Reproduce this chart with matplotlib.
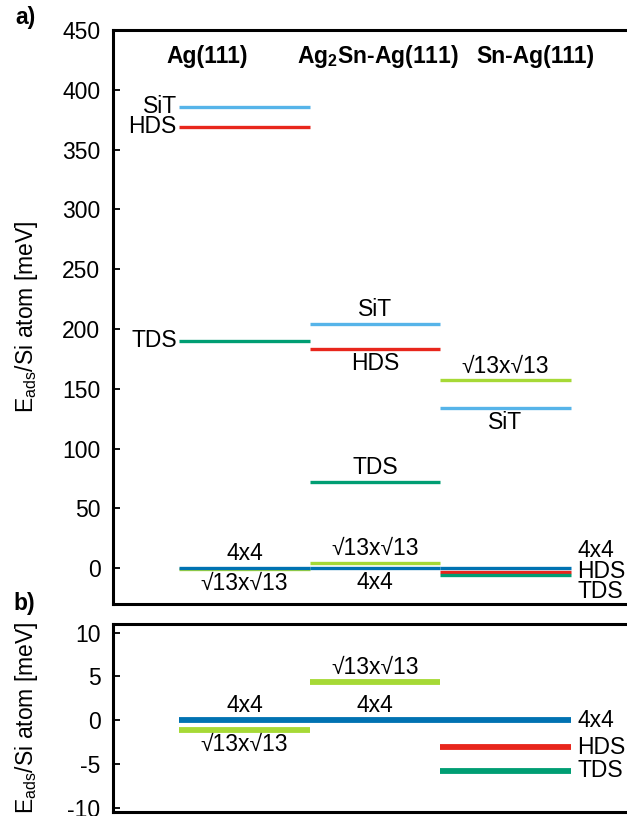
import matplotlib
matplotlib.use("Agg")
import matplotlib.pyplot as plt

plt.rcParams["font.family"] = ["Liberation Sans", "DejaVu Sans"]
plt.rcParams["axes.unicode_minus"] = False

# adsorption energies per Si atom [meV], one value per surface
surfaces = ["Ag(111)", "Ag$_\\mathregular{2}$Sn-Ag(111)", "Sn-Ag(111)"]
header_x = [0.21, 1.52, 2.73]
e_sit = [386, 204, 134]
e_hds = [369, 183, -3.1]
e_tds = [190, 72, -5.8]
e_r13 = [-1.1, 4.4, 157]
e_4x4 = [0, 0, 0]

names = ["SiT", "HDS", "TDS", "√13x√13", "4x4"]
series = [e_sit, e_hds, e_tds, e_r13, e_4x4]
colors = ["#56b4e9", "#e8261c", "#009e73", "#a6d936", "#0072b2"]

# where each label sits relative to its line, per surface
place_a = {
    "SiT": ["left", "above", "below"],
    "HDS": ["left", "below", "right0"],
    "TDS": ["left", "above", "rightdn"],
    "√13x√13": ["below", "above", "above"],
    "4x4": ["above", "below", "rightup"],
}
place_b = {
    "SiT": [None, None, None],
    "HDS": [None, None, "right0"],
    "TDS": [None, None, "right0"],
    "√13x√13": ["below", "above", None],
    "4x4": ["above", "above", "right0"],
}

FS = 16.5


def put_label(ax, text, i, y, where):
    if where is None:
        return
    kw = dict(fontsize=FS, textcoords="offset points", annotation_clip=False)
    if where == "left":
        ax.annotate(text, (i, y), xytext=(-2, 0), ha="right", va="center", **kw)
    elif where == "above":
        ax.annotate(text, (i + 0.5, y), xytext=(0, 2), ha="center", va="bottom", **kw)
    elif where == "below":
        ax.annotate(text, (i + 0.5, y), xytext=(0, -2), ha="center", va="top", **kw)
    else:
        dy = {"right0": 0, "rightup": 12.5, "rightdn": -11.5}[where]
        ax.annotate(text, (i + 1, y), xytext=(5, dy), ha="left", va="center", **kw)


def style(ax, ylim, yticks):
    ax.set_xlim(-0.51, 3.51)
    ax.set_ylim(*ylim)
    ax.set_yticks(yticks)
    ax.set_xticks([])
    for s in ax.spines.values():
        s.set_linewidth(2.2)
    ax.tick_params(axis="y", direction="in", length=5, width=1.3, labelsize=FS, pad=9)
    ax.set_ylabel("E$_\\mathregular{ads}$/Si atom [meV]", fontsize=FS)
    ax.yaxis.set_label_coords(-0.14, 0.5)


fig = plt.figure(figsize=(6.27, 8.16), dpi=100)
ax_a = fig.add_axes([0.1802, 0.2598, 0.8358, 0.7034])
ax_b = fig.add_axes([0.1802, 0.0049, 0.8358, 0.2304])
limits = {ax_a: (-30, 450), ax_b: (-10.5, 11)}

for ax, lw, place in [(ax_a, 2.4, place_a), (ax_b, 4.2, place_b)]:
    lo, hi = limits[ax]
    for name, vals, c in zip(names, series, colors):
        for i, v in enumerate(vals):
            ax.hlines(v, i, i + 1, colors=c, linewidth=lw)
            if lo <= v <= hi:
                put_label(ax, name, i, v, place[name][i])

style(ax_a, limits[ax_a], range(0, 451, 50))
style(ax_b, limits[ax_b], range(-10, 11, 5))

for x, s in zip(header_x, surfaces):
    ax_a.text(x, 428, s, ha="center", va="center", fontsize=FS, fontweight="bold")

fig.text(0.025, 0.978, "a)", fontsize=FS, fontweight="bold", va="center")
fig.text(0.022, 0.261, "b)", fontsize=FS, fontweight="bold", va="center")

fig.savefig("out.png", dpi=100)
